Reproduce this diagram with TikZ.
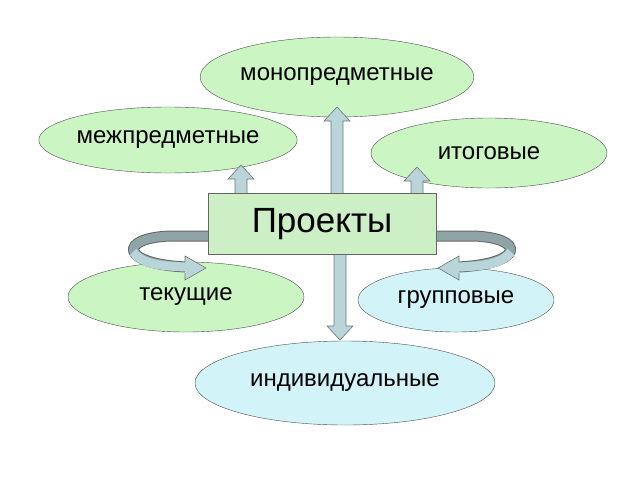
\documentclass[tikz,border=0pt]{standalone}
\usepackage{fontspec}
\setmainfont{Liberation Sans}
\usetikzlibrary{shapes.geometric,calc}
\definecolor{palegreen}{HTML}{CCF5C4}
\definecolor{palecyan}{HTML}{D2F4F8}
\definecolor{boxgreen}{HTML}{CDEFC6}
\definecolor{arrfill}{HTML}{B8D6DA}
\definecolor{bandgray}{HTML}{8FA4A6}
\tikzset{
  kind/.style={ellipse,draw=black!70,fill=palegreen,font=\fontsize{24}{26}\selectfont,
    inner sep=0pt},
  kindc/.style={kind,fill=palecyan},
  mainbox/.style={draw=black!60,fill=boxgreen,minimum width=228pt,minimum height=61pt,
    font=\fontsize{35}{37}\selectfont},
  blockarr/.style={draw=black!55,fill=arrfill,line width=0.6pt},
}
% vertical block arrow: x, y of tail, y of tip
\newcommand\varr[3]{%
  \pgfmathsetmacro\hy{#3+sign(#2-#3)*14}%
  \draw[blockarr] ({#1-6},#2) -- ({#1-6},\hy) -- ({#1-13},\hy)
    -- (#1,#3) -- ({#1+13},\hy) -- ({#1+6},\hy) -- ({#1+6},#2) -- cycle;}
\begin{document}
\begin{tikzpicture}[x=1pt,y=-1pt]
\useasboundingbox (0,0) rectangle (640,480);
\node[kind,minimum width=256pt,minimum height=80pt] (mono) at (337,77) {монопредметные};
\node[kind,minimum width=226pt,minimum height=66pt] (mezh) at (168,140) {межпредметные};
\node[kind,minimum width=236pt,minimum height=70pt] (itog) at (489,153) {итоговые};
\node[kind,minimum width=236pt,minimum height=70pt] (tek) at (186,297) {текущие};
\node[kindc,minimum width=196pt,minimum height=64pt] (grup) at (456,300) {групповые};
\node[kindc,minimum width=300pt,minimum height=84pt] (indiv) at (345,383) {индивидуальные};
% arrows
\varr{241}{194}{165}
\varr{337}{194}{107}
\varr{417}{194}{167}
\varr{340}{253}{340}
% curved bands
\draw[black!60,line width=11pt] (209,236) -- (170,236) .. controls (118,238) and (120,264) .. (186,267);
\draw[bandgray,line width=9pt] (209,236) -- (170,236) .. controls (118,238) and (120,264) .. (186,267);
\draw[arrfill,line width=9pt] (133,252) .. controls (142,264) and (160,266) .. (186,267);
\draw[blockarr] (185,262) -- (185,256) -- (206,268) -- (185,280) -- (185,273);
\draw[black!60,line width=11pt] (435,236) -- (474,236) .. controls (526,238) and (524,264) .. (458,267);
\draw[bandgray,line width=9pt] (435,236) -- (474,236) .. controls (526,238) and (524,264) .. (458,267);
\draw[arrfill,line width=9pt] (511,252) .. controls (502,264) and (484,266) .. (458,267);
\draw[blockarr] (459,262) -- (459,256) -- (438,268) -- (459,280) -- (459,273);
\node[mainbox] (proj) at (322,224) {Проекты};
\end{tikzpicture}
\end{document}
